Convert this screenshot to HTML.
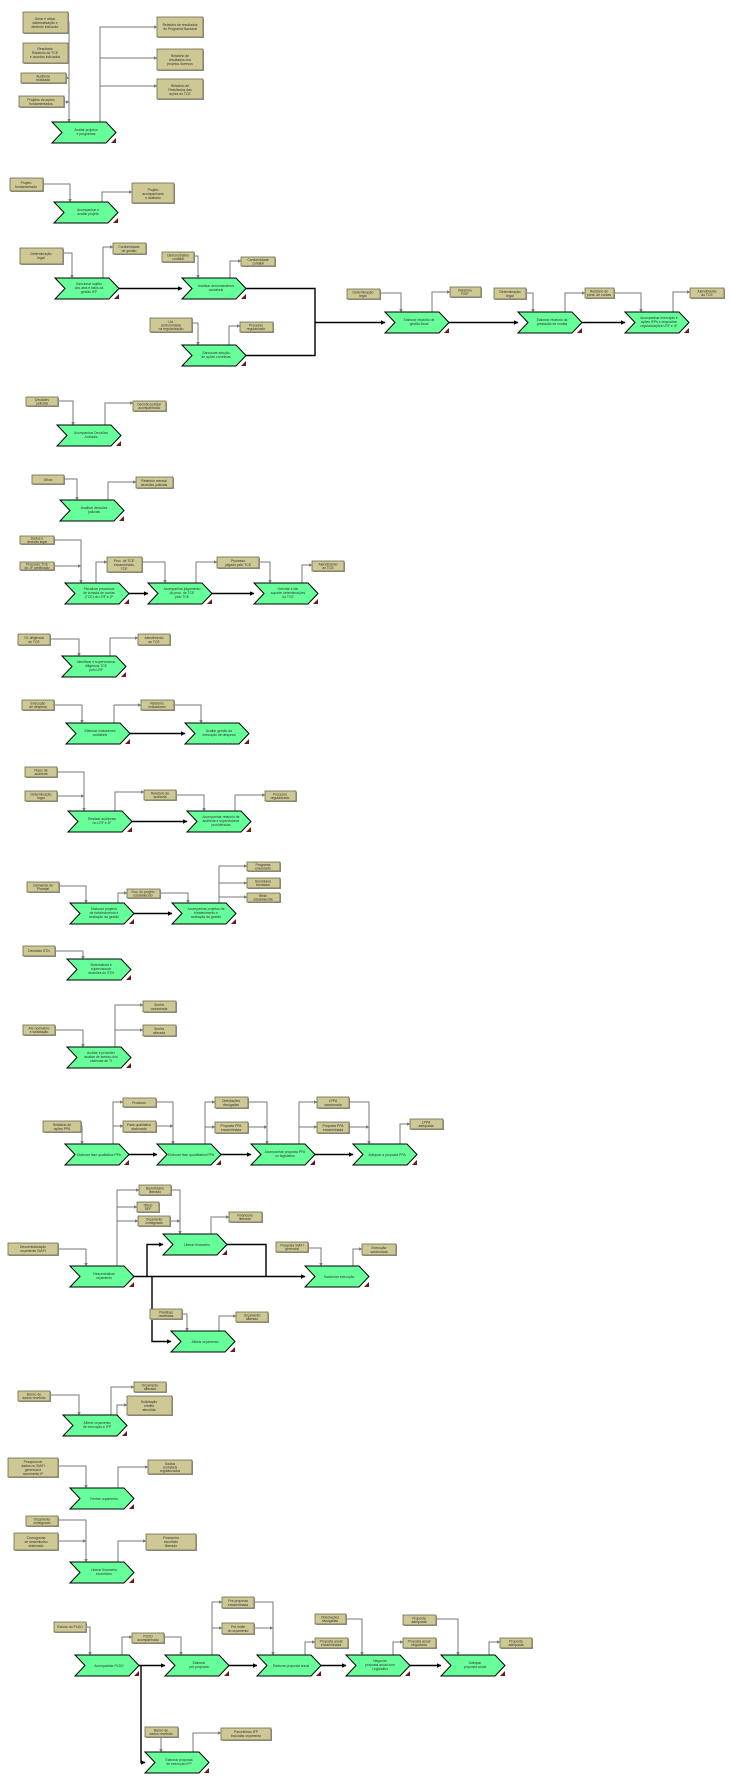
<!DOCTYPE html>
<html><head><meta charset="utf-8"><style>
html,body{margin:0;padding:0;background:#fff}
svg{display:block}
.d{fill:#cdc894;stroke:#6e6a50;stroke-width:.8}
.s{fill:#9a9a90}
.l{stroke:#7a7a7a;stroke-width:1;fill:none}
.a{stroke:#000;stroke-width:1.4;fill:none}
text{font-family:"Liberation Sans",sans-serif;font-size:3.4px;fill:#333;text-anchor:middle}
</style></head><body>
<svg width="731" height="1781" viewBox="0 0 731 1781" xmlns="http://www.w3.org/2000/svg">
<defs>
<marker id="mg" markerWidth="3.5" markerHeight="3.5" refX="3" refY="1.75" orient="auto" markerUnits="userSpaceOnUse"><path d="M0,0L3.5,1.75L0,3.5z" fill="#7a7a7a"/></marker>
<marker id="mb" markerWidth="4.5" markerHeight="4.5" refX="4" refY="2.25" orient="auto" markerUnits="userSpaceOnUse"><path d="M0,0L4.5,2.25L0,4.5z" fill="#000"/></marker>
<g id="ch"><polygon points="0,0 54,0 64,10.5 54,21 0,21 10,10.5" fill="#66ff99" stroke="#000" stroke-width="1"/><polygon points="59,21 64,16 64,21" fill="#6a1a1a"/></g>
</defs>

<g class="l" marker-end="url(#mg)">
<path d="M68,22H69V122"/><path d="M68,53H69"/><path d="M66,78H69"/><path d="M64,102H69"/>
<path d="M100,122V27H157"/><path d="M100,58H157"/><path d="M100,86H157"/>
<path d="M43,184H70V202"/><path d="M102,202V192H132"/>
<path d="M63,253H72V278"/><path d="M103,278V247H113"/><path d="M194,256H198V278"/><path d="M230,278V261H241"/>
<path d="M192,323H198V345"/><path d="M229,345V326H240"/>
<path d="M380,293H401V312"/><path d="M432,312V292H450"/><path d="M526,293H533V312"/><path d="M565,312V293H585"/><path d="M614,293H641V312"/><path d="M673,312V292H690"/>
<path d="M58,401H73V425"/><path d="M105,425V403H133"/>
<path d="M64,479H77V500"/><path d="M108,500V482H136"/>
<path d="M54,566H81"/><path d="M54,540H81V583"/><path d="M96,583V562H107"/><path d="M142,562H165V583"/><path d="M196,583V562H217"/><path d="M259,562H270V583"/><path d="M302,583V565H312"/>
<path d="M50,639H79V656"/><path d="M110,656V638H138"/>
<path d="M54,705H82V723"/><path d="M114,723V705H141"/><path d="M174,705H201V723"/>
<path d="M57,796H84"/><path d="M57,772H84V811"/><path d="M115,811V792H144"/><path d="M176,795H204V811"/><path d="M235,811V795H265"/>
<path d="M59,886H86V903"/><path d="M118,903V893H127"/><path d="M160,893H188V903"/><path d="M219,903V866H247"/><path d="M219,883H247"/><path d="M219,897H247"/>
<path d="M55,951H83V959"/><path d="M55,1030H83V1047"/><path d="M115,1047V1005H143"/><path d="M115,1030H143"/>
<path d="M81,1126H82V1144"/><path d="M113,1144V1102H123"/><path d="M113,1126H123"/><path d="M156,1126H173"/><path d="M156,1102H173V1144"/>
<path d="M205,1144V1102H215"/><path d="M205,1127H215"/><path d="M248,1127H267"/><path d="M248,1102H267V1144"/>
<path d="M299,1144V1102H317"/><path d="M299,1127H317"/><path d="M349,1127H369"/><path d="M349,1102H369V1144"/>
<path d="M400,1144V1124H410"/>
<path d="M58,1249H86V1266"/><path d="M117,1266V1190H139"/><path d="M117,1207H137"/><path d="M117,1221H138"/><path d="M170,1221H180"/><path d="M171,1190H180V1234"/><path d="M211,1234V1217H229"/>
<path d="M308,1248H321V1266"/><path d="M353,1266V1249H362"/><path d="M182,1314H187V1331"/><path d="M219,1331V1316H236"/>
<path d="M50,1395H79V1415"/><path d="M111,1415V1387H134"/><path d="M117,1415V1405H127"/>
<path d="M58,1466H86V1488"/><path d="M118,1488V1467H148"/>
<path d="M58,1541H86"/><path d="M58,1520H86V1562"/><path d="M118,1562V1541H146"/>
<path d="M86,1627H90V1655"/><path d="M122,1655V1637H132"/><path d="M164,1637H181V1655"/>
<path d="M212,1655V1602H222"/><path d="M212,1628H222"/><path d="M254,1628H273"/><path d="M254,1602H273V1655"/>
<path d="M305,1655V1642H315"/><path d="M346,1619H362V1655"/><path d="M393,1655V1642H403"/><path d="M436,1619H458V1655"/><path d="M489,1655V1642H500"/>
<path d="M161,1737V1752"/><path d="M193,1752V1733H221"/>
</g>
<g class="a">
<path d="M246,288.5H315V355.5H245"/><path d="M227,1244.5H266V1276.5"/>
</g>
<g class="a" marker-end="url(#mb)">
<path d="M119,288.5H182"/><path d="M315,322.5H385"/><path d="M449,322.5H518"/><path d="M581,322.5H625"/>
<path d="M128,593.5H148"/><path d="M212,593.5H254"/>
<path d="M129,733.5H185"/><path d="M130,821.5H187"/><path d="M132,913.5H172"/>
<path d="M128,1154.5H157"/><path d="M220,1154.5H251"/><path d="M315,1154.5H353"/>
<path d="M134,1276.5H305"/><path d="M147,1276.5V1244.5H163"/><path d="M152,1276.5V1341.5H171"/>
<path d="M139,1665.5H165"/><path d="M229,1665.5H257"/><path d="M321,1665.5H346"/><path d="M409,1665.5H441"/><path d="M141,1665.5V1762.5H145"/>
</g>

<g transform="translate(52,122)"><use href="#ch"/><text x="34" y="9">Avaliar projetos</text><text x="34" y="13">e programas</text></g>
<g transform="translate(54,202)"><use href="#ch"/><text x="34" y="9">Acompanhar e</text><text x="34" y="13">avaliar projeto</text></g>
<g transform="translate(55,278)"><use href="#ch"/><text x="34" y="7">Sancionar sujeito</text><text x="34" y="11">dos atos e fatos da</text><text x="34" y="15">gestão IFP</text></g>
<g transform="translate(182,278)"><use href="#ch"/><text x="34" y="9">Analisar demonstrativos</text><text x="34" y="13">contábeis</text></g>
<g transform="translate(182,345)"><use href="#ch"/><text x="34" y="9">Sancionar adoção</text><text x="34" y="13">de ações corretivas</text></g>
<g transform="translate(385,312)"><use href="#ch"/><text x="34" y="9">Elaborar relatório de</text><text x="34" y="13">gestão fiscal</text></g>
<g transform="translate(518,312)"><use href="#ch"/><text x="34" y="9">Elaborar relatório da</text><text x="34" y="13">prestação de contas</text></g>
<g transform="translate(625,312)"><use href="#ch"/><text x="34" y="7">Acompanhar execução e</text><text x="34" y="11">ações IFPs e enquadrar</text><text x="34" y="15">regularizações LRF e JF</text></g>
<g transform="translate(57,425)"><use href="#ch"/><text x="34" y="9">Acompanhar Decisões</text><text x="34" y="13">Judiciais</text></g>
<g transform="translate(60,500)"><use href="#ch"/><text x="34" y="9">Analisar decisões</text><text x="34" y="13">judiciais</text></g>
<g transform="translate(65,583)"><use href="#ch"/><text x="34" y="7">Fiscalizar processos</text><text x="34" y="11">de tomada de contas</text><text x="34" y="15">(TCE) do LRF e JF</text></g>
<g transform="translate(148,583)"><use href="#ch"/><text x="34" y="7">Acompanhar julgamento</text><text x="34" y="11">do proc. de TCE</text><text x="34" y="15">pelo TCE</text></g>
<g transform="translate(254,583)"><use href="#ch"/><text x="34" y="7">Orientar e dar</text><text x="34" y="11">suporte determinações</text><text x="34" y="15">do TCE</text></g>
<g transform="translate(62,656)"><use href="#ch"/><text x="34" y="7">Identificar e supervisionar</text><text x="34" y="11">diligência TCE</text><text x="34" y="15">pelo LRF</text></g>
<g transform="translate(66,723)"><use href="#ch"/><text x="34" y="9">Elaborar indicadores</text><text x="34" y="13">contábeis</text></g>
<g transform="translate(185,723)"><use href="#ch"/><text x="34" y="9">Avaliar gestão da</text><text x="34" y="13">execução de despesa</text></g>
<g transform="translate(68,811)"><use href="#ch"/><text x="34" y="9">Realizar auditorias</text><text x="34" y="13">no LRF e JF</text></g>
<g transform="translate(187,811)"><use href="#ch"/><text x="34" y="7">Acompanhar relatório de</text><text x="34" y="11">auditoria e supervisionar</text><text x="34" y="15">providências</text></g>
<g transform="translate(70,903)"><use href="#ch"/><text x="34" y="7">Elaborar projetos</text><text x="34" y="11">de fortalecimento e</text><text x="34" y="15">avaliação da gestão</text></g>
<g transform="translate(172,903)"><use href="#ch"/><text x="34" y="7">Acompanhar projetos de</text><text x="34" y="11">fortalecimento e</text><text x="34" y="15">avaliação da gestão</text></g>
<g transform="translate(67,959)"><use href="#ch"/><text x="34" y="7">Sistematizar e</text><text x="34" y="11">supervisionar</text><text x="34" y="15">decisões do STN</text></g>
<g transform="translate(67,1047)"><use href="#ch"/><text x="34" y="7">Auditar e proceder</text><text x="34" y="11">análise de acesso dos</text><text x="34" y="15">sistemas de TI</text></g>
<g transform="translate(65,1144)"><use href="#ch"/><text x="34" y="12">Elaborar fase qualitativa PPA</text></g>
<g transform="translate(157,1144)"><use href="#ch"/><text x="34" y="12">Elaborar fase quantitativa PPA</text></g>
<g transform="translate(251,1144)"><use href="#ch"/><text x="34" y="9">Acompanhar proposta PPA</text><text x="34" y="13">no legislativo</text></g>
<g transform="translate(353,1144)"><use href="#ch"/><text x="34" y="12">Adequar a proposta PPA</text></g>
<g transform="translate(70,1266)"><use href="#ch"/><text x="34" y="9">Descentralizar</text><text x="34" y="13">orçamento</text></g>
<g transform="translate(163,1234)"><use href="#ch"/><text x="34" y="12">Liberar financeiro</text></g>
<g transform="translate(305,1266)"><use href="#ch"/><text x="34" y="12">Sancionar execução</text></g>
<g transform="translate(171,1331)"><use href="#ch"/><text x="34" y="12">Alterar orçamento</text></g>
<g transform="translate(63,1415)"><use href="#ch"/><text x="34" y="9">Alterar orçamento</text><text x="34" y="13">de execução e IFP</text></g>
<g transform="translate(70,1488)"><use href="#ch"/><text x="34" y="12">Fechar orçamento</text></g>
<g transform="translate(70,1562)"><use href="#ch"/><text x="34" y="9">Liberar financeiro</text><text x="34" y="13">escolhidos</text></g>
<g transform="translate(75,1655)"><use href="#ch"/><text x="34" y="12">Acompanhar PLDO</text></g>
<g transform="translate(165,1655)"><use href="#ch"/><text x="34" y="9">Elaborar</text><text x="34" y="13">pré-proposta</text></g>
<g transform="translate(257,1655)"><use href="#ch"/><text x="34" y="12">Elaborar proposta anual</text></g>
<g transform="translate(346,1655)"><use href="#ch"/><text x="34" y="7">Negociar</text><text x="34" y="11">proposta anual com</text><text x="34" y="15">Legislativo</text></g>
<g transform="translate(441,1655)"><use href="#ch"/><text x="34" y="9">Adequar</text><text x="34" y="13">proposta anual</text></g>
<g transform="translate(145,1752)"><use href="#ch"/><text x="34" y="9">Elaborar proposta</text><text x="34" y="13">de execução IFP</text></g>

<g>
<g transform="translate(23,12)"><rect x="1" y="1" width="45" height="21" class="s"/><rect width="45" height="21" class="d"/><text x="22" y="8">Gerar e afixar</text><text x="22" y="12">sistematização e</text><text x="22" y="16">diretorio indicador</text></g>
<g transform="translate(23,43)"><rect x="1" y="1" width="45" height="20" class="s"/><rect width="45" height="20" class="d"/><text x="22" y="7">Resultado</text><text x="22" y="11">Relatório do TCE</text><text x="22" y="15">e acordos indicados</text></g>
<g transform="translate(21,73)"><rect x="1" y="1" width="45" height="10" class="s"/><rect width="45" height="10" class="d"/><text x="22" y="4.5">Auditoria</text><text x="22" y="8">realizada</text></g>
<g transform="translate(19,96)"><rect x="1" y="1" width="45" height="11" class="s"/><rect width="45" height="11" class="d"/><text x="22" y="5">Projetos de ações</text><text x="22" y="9">fundamentados</text></g>
<g transform="translate(157,17)"><rect x="1" y="1" width="46" height="20" class="s"/><rect width="46" height="20" class="d"/><text x="23" y="9">Relatório de resultados</text><text x="23" y="13">do Programa Nacional</text></g>
<g transform="translate(157,49)"><rect x="1" y="1" width="46" height="21" class="s"/><rect width="46" height="21" class="d"/><text x="23" y="8">Relatório de</text><text x="23" y="12">resultados dos</text><text x="23" y="16">projetos diversos</text></g>
<g transform="translate(157,79)"><rect x="1" y="1" width="46" height="20" class="s"/><rect width="46" height="20" class="d"/><text x="23" y="8">Relatório de</text><text x="23" y="12">Resultados das</text><text x="23" y="16">ações do TCE</text></g>

<g transform="translate(10,178)"><rect x="1" y="1" width="33" height="13" class="s"/><rect width="33" height="13" class="d"/><text x="16" y="6">Projeto</text><text x="16" y="10">fundamentado</text></g>
<g transform="translate(132,183)"><rect x="1" y="1" width="42" height="20" class="s"/><rect width="42" height="20" class="d"/><text x="21" y="8">Projeto</text><text x="21" y="12">acompanhado</text><text x="21" y="16">e avaliado</text></g>

<g transform="translate(20,248)"><rect x="1" y="1" width="43" height="16" class="s"/><rect width="43" height="16" class="d"/><text x="21" y="7">Determinação</text><text x="21" y="11">legal</text></g>
<g transform="translate(113,243)"><rect x="1" y="1" width="33" height="11" class="s"/><rect width="33" height="11" class="d"/><text x="16" y="5">Conformidade</text><text x="16" y="9">de gestão</text></g>
<g transform="translate(162,252)"><rect x="1" y="1" width="32" height="10" class="s"/><rect width="32" height="10" class="d"/><text x="16" y="4.5">Demonstrativo</text><text x="16" y="8">contábil</text></g>
<g transform="translate(241,257)"><rect x="1" y="1" width="34" height="9" class="s"/><rect width="34" height="9" class="d"/><text x="17" y="4">Conformidade</text><text x="17" y="7.5">contábil</text></g>
<g transform="translate(150,318)"><rect x="1" y="1" width="42" height="14" class="s"/><rect width="42" height="14" class="d"/><text x="21" y="5">Ud.</text><text x="21" y="8.5">conformidade</text><text x="21" y="12">na regularização</text></g>
<g transform="translate(240,322)"><rect x="1" y="1" width="33" height="10" class="s"/><rect width="33" height="10" class="d"/><text x="16" y="4.5">Processo</text><text x="16" y="8">regularizado</text></g>
<g transform="translate(347,289)"><rect x="1" y="1" width="33" height="10" class="s"/><rect width="33" height="10" class="d"/><text x="16" y="4.5">Determinação</text><text x="16" y="8">legal</text></g>
<g transform="translate(450,287)"><rect x="1" y="1" width="31" height="10" class="s"/><rect width="31" height="10" class="d"/><text x="15" y="4.5">Relatório</text><text x="15" y="8">RGF</text></g>
<g transform="translate(494,288)"><rect x="1" y="1" width="32" height="11" class="s"/><rect width="32" height="11" class="d"/><text x="16" y="5">Determinação</text><text x="16" y="9">legal</text></g>
<g transform="translate(585,288)"><rect x="1" y="1" width="29" height="10" class="s"/><rect width="29" height="10" class="d"/><text x="14" y="4.5">Relatório de</text><text x="14" y="8">prest. de contas</text></g>
<g transform="translate(690,288)"><rect x="1" y="1" width="34" height="10" class="s"/><rect width="34" height="10" class="d"/><text x="17" y="4.5">Atendimento</text><text x="17" y="8">ao TCE</text></g>

<g transform="translate(26,397)"><rect x="1" y="1" width="32" height="9" class="s"/><rect width="32" height="9" class="d"/><text x="16" y="4">Decisões</text><text x="16" y="7.5">judiciais</text></g>
<g transform="translate(133,401)"><rect x="1" y="1" width="33" height="10" class="s"/><rect width="33" height="10" class="d"/><text x="16" y="4.5">Decisão judicial</text><text x="16" y="8">acompanhada</text></g>
<g transform="translate(32,475)"><rect x="1" y="1" width="32" height="9" class="s"/><rect width="32" height="9" class="d"/><text x="16" y="6">Ofício</text></g>
<g transform="translate(136,477)"><rect x="1" y="1" width="37" height="11" class="s"/><rect width="37" height="11" class="d"/><text x="18" y="5">Relatório mensal</text><text x="18" y="9">decisões judiciais</text></g>
<g transform="translate(20,536)"><rect x="1" y="1" width="34" height="8" class="s"/><rect width="34" height="8" class="d"/><text x="17" y="3.5">Dados e</text><text x="17" y="7">decisão legal</text></g>
<g transform="translate(20,562)"><rect x="1" y="1" width="34" height="8" class="s"/><rect width="34" height="8" class="d"/><text x="17" y="3.5">Processo TCE</text><text x="17" y="7">do JF certificado</text></g>
<g transform="translate(107,557)"><rect x="1" y="1" width="35" height="15" class="s"/><rect width="35" height="15" class="d"/><text x="17" y="5">Proc. de TCE</text><text x="17" y="9">encaminhado</text><text x="17" y="13">TCE</text></g>
<g transform="translate(217,557)"><rect x="1" y="1" width="42" height="11" class="s"/><rect width="42" height="11" class="d"/><text x="21" y="5">Processo</text><text x="21" y="9">julgado pelo TCE</text></g>
<g transform="translate(312,561)"><rect x="1" y="1" width="32" height="10" class="s"/><rect width="32" height="10" class="d"/><text x="16" y="4.5">Atendimento</text><text x="16" y="8">ao TCE</text></g>

<g transform="translate(18,634)"><rect x="1" y="1" width="32" height="11" class="s"/><rect width="32" height="11" class="d"/><text x="16" y="5">Of. diligência</text><text x="16" y="9">do TCE</text></g>
<g transform="translate(138,634)"><rect x="1" y="1" width="32" height="11" class="s"/><rect width="32" height="11" class="d"/><text x="16" y="5">Atendimento</text><text x="16" y="9">ao TCE</text></g>
<g transform="translate(22,700)"><rect x="1" y="1" width="32" height="10" class="s"/><rect width="32" height="10" class="d"/><text x="16" y="4.5">Execução</text><text x="16" y="8">de despesa</text></g>
<g transform="translate(141,700)"><rect x="1" y="1" width="33" height="10" class="s"/><rect width="33" height="10" class="d"/><text x="16" y="4.5">Relatório</text><text x="16" y="8">indicadores</text></g>
<g transform="translate(25,767)"><rect x="1" y="1" width="32" height="10" class="s"/><rect width="32" height="10" class="d"/><text x="16" y="4.5">Plano de</text><text x="16" y="8">auditoria</text></g>
<g transform="translate(25,791)"><rect x="1" y="1" width="32" height="10" class="s"/><rect width="32" height="10" class="d"/><text x="16" y="4.5">Determinação</text><text x="16" y="8">legal</text></g>
<g transform="translate(144,790)"><rect x="1" y="1" width="32" height="10" class="s"/><rect width="32" height="10" class="d"/><text x="16" y="4.5">Relatório de</text><text x="16" y="8">auditoria</text></g>
<g transform="translate(265,791)"><rect x="1" y="1" width="31" height="10" class="s"/><rect width="31" height="10" class="d"/><text x="15" y="4.5">Processo</text><text x="15" y="8">regularizado</text></g>
<g transform="translate(27,882)"><rect x="1" y="1" width="32" height="10" class="s"/><rect width="32" height="10" class="d"/><text x="16" y="4.5">Demanda do</text><text x="16" y="8">Planejal</text></g>
<g transform="translate(127,889)"><rect x="1" y="1" width="33" height="9" class="s"/><rect width="33" height="9" class="d"/><text x="16" y="4">Doc. do projeto</text><text x="16" y="7.5">estabelecido</text></g>
<g transform="translate(247,862)"><rect x="1" y="1" width="33" height="9" class="s"/><rect width="33" height="9" class="d"/><text x="16" y="4">Programa</text><text x="16" y="7.5">executado</text></g>
<g transform="translate(247,878)"><rect x="1" y="1" width="33" height="10" class="s"/><rect width="33" height="10" class="d"/><text x="16" y="4.5">Servidores</text><text x="16" y="8">treinados</text></g>
<g transform="translate(247,893)"><rect x="1" y="1" width="33" height="9" class="s"/><rect width="33" height="9" class="d"/><text x="16" y="4">Rede</text><text x="16" y="7.5">estabelecida</text></g>

<g transform="translate(23,946)"><rect x="1" y="1" width="32" height="10" class="s"/><rect width="32" height="10" class="d"/><text x="16" y="6">Decisões STN</text></g>
<g transform="translate(23,1025)"><rect x="1" y="1" width="32" height="10" class="s"/><rect width="32" height="10" class="d"/><text x="16" y="4.5">Ato normativo</text><text x="16" y="8">e solicitação</text></g>
<g transform="translate(143,1001)"><rect x="1" y="1" width="33" height="11" class="s"/><rect width="33" height="11" class="d"/><text x="16" y="5">Senha</text><text x="16" y="9">cadastrada</text></g>
<g transform="translate(143,1025)"><rect x="1" y="1" width="33" height="11" class="s"/><rect width="33" height="11" class="d"/><text x="16" y="5">Senha</text><text x="16" y="9">alterada</text></g>

<g transform="translate(43,1121)"><rect x="1" y="1" width="38" height="11" class="s"/><rect width="38" height="11" class="d"/><text x="19" y="5">Relatório de</text><text x="19" y="9">ações PPA</text></g>
<g transform="translate(123,1098)"><rect x="1" y="1" width="33" height="9" class="s"/><rect width="33" height="9" class="d"/><text x="16" y="6">Produtos</text></g>
<g transform="translate(123,1121)"><rect x="1" y="1" width="33" height="11" class="s"/><rect width="33" height="11" class="d"/><text x="16" y="5">Fase qualitativa</text><text x="16" y="9">elaborada</text></g>
<g transform="translate(215,1097)"><rect x="1" y="1" width="33" height="11" class="s"/><rect width="33" height="11" class="d"/><text x="16" y="5">Orientações</text><text x="16" y="9">divulgadas</text></g>
<g transform="translate(215,1122)"><rect x="1" y="1" width="33" height="11" class="s"/><rect width="33" height="11" class="d"/><text x="16" y="5">Proposta PPA</text><text x="16" y="9">encaminhada</text></g>
<g transform="translate(317,1097)"><rect x="1" y="1" width="32" height="11" class="s"/><rect width="32" height="11" class="d"/><text x="16" y="5">LPPA</text><text x="16" y="9">sancionada</text></g>
<g transform="translate(317,1122)"><rect x="1" y="1" width="32" height="11" class="s"/><rect width="32" height="11" class="d"/><text x="16" y="5">Proposta PPA</text><text x="16" y="9">encaminhada</text></g>
<g transform="translate(410,1119)"><rect x="1" y="1" width="33" height="10" class="s"/><rect width="33" height="10" class="d"/><text x="16" y="4.5">LPPA</text><text x="16" y="8">adequada</text></g>

<g transform="translate(8,1243)"><rect x="1" y="1" width="50" height="12" class="s"/><rect width="50" height="12" class="d"/><text x="25" y="5">Descentralização</text><text x="25" y="9">orçamento SIAFI</text></g>
<g transform="translate(139,1185)"><rect x="1" y="1" width="32" height="10" class="s"/><rect width="32" height="10" class="d"/><text x="16" y="4.5">Beneficiário</text><text x="16" y="8">liberado</text></g>
<g transform="translate(137,1202)"><rect x="1" y="1" width="22" height="10" class="s"/><rect width="22" height="10" class="d"/><text x="11" y="4.5">Ofício</text><text x="11" y="8">SEF</text></g>
<g transform="translate(138,1216)"><rect x="1" y="1" width="32" height="10" class="s"/><rect width="32" height="10" class="d"/><text x="16" y="4.5">Orçamento</text><text x="16" y="8">consignado</text></g>
<g transform="translate(229,1212)"><rect x="1" y="1" width="33" height="10" class="s"/><rect width="33" height="10" class="d"/><text x="16" y="4.5">Financeiro</text><text x="16" y="8">liberado</text></g>
<g transform="translate(276,1242)"><rect x="1" y="1" width="32" height="10" class="s"/><rect width="32" height="10" class="d"/><text x="16" y="4.5">Pesquisa SIAFI</text><text x="16" y="8">gerencial</text></g>
<g transform="translate(362,1244)"><rect x="1" y="1" width="34" height="11" class="s"/><rect width="34" height="11" class="d"/><text x="17" y="5">Execução</text><text x="17" y="9">sancionada</text></g>
<g transform="translate(150,1309)"><rect x="1" y="1" width="32" height="10" class="s"/><rect width="32" height="10" class="d"/><text x="16" y="4.5">Planilhas</text><text x="16" y="8">recebidas</text></g>
<g transform="translate(236,1312)"><rect x="1" y="1" width="32" height="10" class="s"/><rect width="32" height="10" class="d"/><text x="16" y="4.5">Orçamento</text><text x="16" y="8">alterado</text></g>

<g transform="translate(18,1391)"><rect x="1" y="1" width="32" height="10" class="s"/><rect width="32" height="10" class="d"/><text x="16" y="4.5">Banco de</text><text x="16" y="8">dados recebido</text></g>
<g transform="translate(134,1382)"><rect x="1" y="1" width="32" height="10" class="s"/><rect width="32" height="10" class="d"/><text x="16" y="4.5">Orçamento</text><text x="16" y="8">alterado</text></g>
<g transform="translate(127,1396)"><rect x="1" y="1" width="45" height="19" class="s"/><rect width="45" height="19" class="d"/><text x="22" y="7">Solicitação</text><text x="22" y="11">crédito</text><text x="22" y="15">atendida</text></g>
<g transform="translate(8,1458)"><rect x="1" y="1" width="50" height="19" class="s"/><rect width="50" height="19" class="d"/><text x="25" y="5">Pesquisa de</text><text x="25" y="9">dados no SIAFI</text><text x="25" y="13">gerencial e</text><text x="25" y="17">movimento IF</text></g>
<g transform="translate(148,1460)"><rect x="1" y="1" width="44" height="14" class="s"/><rect width="44" height="14" class="d"/><text x="22" y="5">Saldos</text><text x="22" y="8.5">contábeis</text><text x="22" y="12">regularizados</text></g>
<g transform="translate(26,1516)"><rect x="1" y="1" width="32" height="10" class="s"/><rect width="32" height="10" class="d"/><text x="16" y="4.5">Orçamento</text><text x="16" y="8">consignado</text></g>
<g transform="translate(14,1533)"><rect x="1" y="1" width="44" height="17" class="s"/><rect width="44" height="17" class="d"/><text x="22" y="6">Cronograma</text><text x="22" y="10">de desembolso</text><text x="22" y="14">elaborado</text></g>
<g transform="translate(146,1534)"><rect x="1" y="1" width="50" height="16" class="s"/><rect width="50" height="16" class="d"/><text x="25" y="5">Financeiro</text><text x="25" y="9">escolhido</text><text x="25" y="13">liberado</text></g>

<g transform="translate(54,1622)"><rect x="1" y="1" width="32" height="10" class="s"/><rect width="32" height="10" class="d"/><text x="16" y="6">Estudo do PLDO</text></g>
<g transform="translate(132,1633)"><rect x="1" y="1" width="32" height="10" class="s"/><rect width="32" height="10" class="d"/><text x="16" y="4.5">PLDO</text><text x="16" y="8">acompanhado</text></g>
<g transform="translate(222,1597)"><rect x="1" y="1" width="32" height="11" class="s"/><rect width="32" height="11" class="d"/><text x="16" y="5">Pré-proposta</text><text x="16" y="9">encaminhada</text></g>
<g transform="translate(222,1623)"><rect x="1" y="1" width="32" height="11" class="s"/><rect width="32" height="11" class="d"/><text x="16" y="5">Pré-limite</text><text x="16" y="9">do orçamento</text></g>
<g transform="translate(315,1614)"><rect x="1" y="1" width="31" height="10" class="s"/><rect width="31" height="10" class="d"/><text x="15" y="4.5">Orientações</text><text x="15" y="8">divulgadas</text></g>
<g transform="translate(315,1638)"><rect x="1" y="1" width="33" height="10" class="s"/><rect width="33" height="10" class="d"/><text x="16" y="4.5">Proposta anual</text><text x="16" y="8">encaminhada</text></g>
<g transform="translate(403,1615)"><rect x="1" y="1" width="33" height="10" class="s"/><rect width="33" height="10" class="d"/><text x="16" y="4.5">Proposta</text><text x="16" y="8">adequada</text></g>
<g transform="translate(403,1638)"><rect x="1" y="1" width="33" height="10" class="s"/><rect width="33" height="10" class="d"/><text x="16" y="4.5">Proposta anual</text><text x="16" y="8">negociada</text></g>
<g transform="translate(500,1638)"><rect x="1" y="1" width="32" height="10" class="s"/><rect width="32" height="10" class="d"/><text x="16" y="4.5">Proposta</text><text x="16" y="8">adequada</text></g>
<g transform="translate(145,1727)"><rect x="1" y="1" width="33" height="10" class="s"/><rect width="33" height="10" class="d"/><text x="16" y="4.5">Banco de</text><text x="16" y="8">dados recebido</text></g>
<g transform="translate(221,1728)"><rect x="1" y="1" width="50" height="12" class="s"/><rect width="50" height="12" class="d"/><text x="25" y="5">Parcelinhas IFP</text><text x="25" y="9">incluídas orçamento</text></g>
</g>
</svg>
</body></html>
